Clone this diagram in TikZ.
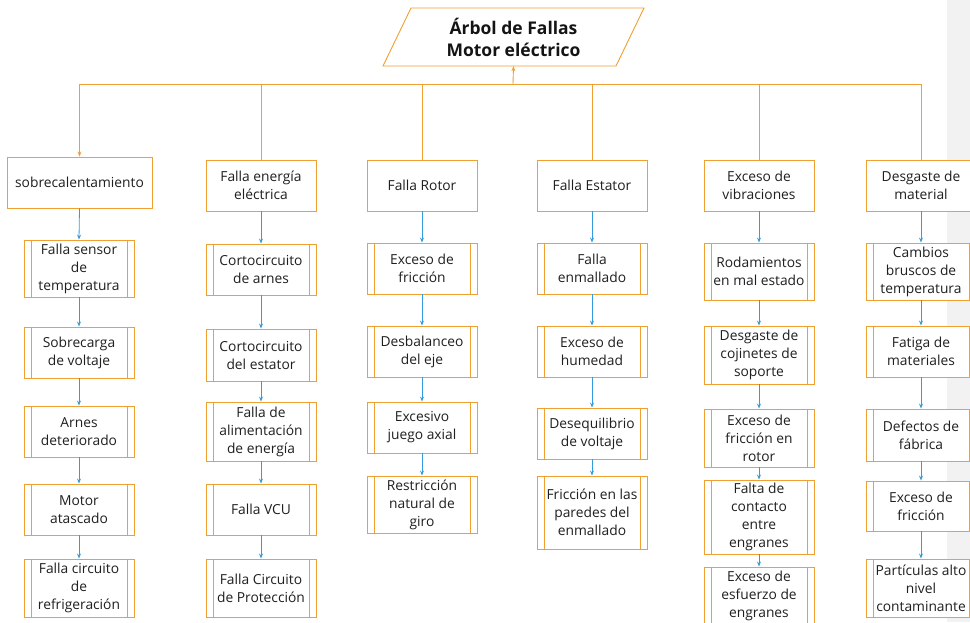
\documentclass[tikz,border=0pt]{standalone}
\usepackage{fontspec}
\setmainfont{Open Sans}
\usetikzlibrary{arrows.meta}
\definecolor{treeorange}{RGB}{240,160,48}
\definecolor{treeblue}{RGB}{52,156,220}
\definecolor{sidegray}{RGB}{242,242,242}
\tikzset{
  box/.style={draw=treeorange, line width=0.9pt, fill=white, inner sep=1pt,
    align=center, font=\fontsize{13.8}{18}\selectfont, text=black!88},
  mainbox/.style={box, minimum width=110pt, minimum height=51pt},
  subbox/.style={box, minimum width=110pt,
    path picture={\draw[treeorange, line width=0.9pt]
      ([xshift=7pt]path picture bounding box.north west) -- ([xshift=7pt]path picture bounding box.south west)
      ([xshift=-7pt]path picture bounding box.north east) -- ([xshift=-7pt]path picture bounding box.south east);}},
  busline/.style={draw=treeorange, line width=0.9pt},
  link/.style={draw=treeblue, line width=0.8pt, -{Stealth[length=5pt,width=4pt]}},
}
\begin{document}
\begin{tikzpicture}[x=1pt,y=-1pt]
\useasboundingbox (0,0) rectangle (970,622);
\fill[sidegray] (947,0) rectangle (970,622);

% title parallelogram
\draw[treeorange, line width=0.9pt, fill=white] (411,8) -- (644,8) -- (616,66) -- (383,66) -- cycle;
\node[minimum width=200pt, minimum height=58pt, inner sep=0pt, align=center,
  font=\bfseries\fontsize{17.5}{22}\selectfont, text=black!92] (title) at (513.5,37)
  {Árbol de Fallas\\Motor eléctrico};

% first level
\node[mainbox, minimum width=145pt] (c1) at (79.5,182.5) {sobrecalentamiento};
\node[mainbox] (c2) at (261,185.5) {Falla energía\\eléctrica};
\node[mainbox] (c3) at (422,185.5) {Falla Rotor};
\node[mainbox] (c4) at (592,185.5) {Falla Estator};
\node[mainbox] (c5) at (759,185.5) {Exceso de\\vibraciones};
\node[mainbox] (c6) at (921,185.5) {Desgaste de\\material};

% bus to the title
\coordinate (bus) at (513,84);
\draw[busline] (c1.north |- bus) -- (c6.north |- bus);
\draw[busline, -{Stealth[length=5pt,width=4pt]}] (bus) -- (title.south);
\draw[busline, -{Stealth[length=5pt,width=4pt]}] (c1.north |- bus) -- (c1.north);
\foreach \c in {c2,c3,c4,c5,c6}
  \draw[busline] (\c.north |- bus) -- (\c.north);

% column 1
\node[subbox, minimum height=57pt] (s11) at (79,268.5) {Falla sensor\\de\\temperatura};
\node[subbox, minimum height=51pt] (s12) at (79,352.5) {Sobrecarga\\de voltaje};
\node[subbox, minimum height=51pt] (s13) at (79,431.5) {Arnes\\deteriorado};
\node[subbox, minimum height=51pt] (s14) at (79,509.5) {Motor\\atascado};
\node[subbox, minimum height=58pt] (s15) at (79,588) {Falla circuito\\de\\refrigeración};

% column 2
\node[subbox, minimum height=51pt] (s21) at (261,269.5) {Cortocircuito\\de arnes};
\node[subbox, minimum height=52pt] (s22) at (261,355) {Cortocircuito\\del estator};
\node[subbox, minimum height=59pt] (s23) at (261,431.5) {Falla de\\alimentación\\de energía};
\node[subbox, minimum height=51pt] (s24) at (261,509.5) {Falla VCU};
\node[subbox, minimum height=58pt] (s25) at (261,588) {Falla Circuito\\de Protección};

% column 3
\node[subbox, minimum height=51pt] (s31) at (422,268.5) {Exceso de\\fricción};
\node[subbox, minimum height=51pt] (s32) at (422,351.5) {Desbalanceo\\del eje};
\node[subbox, minimum height=51pt] (s33) at (422,427.5) {Excesivo\\juego axial};
\node[subbox, minimum height=57pt] (s34) at (422,504.5) {Restricción\\natural de\\giro};

% column 4
\node[subbox, minimum height=51pt] (s41) at (592,268.5) {Falla\\enmallado};
\node[subbox, minimum height=51pt] (s42) at (592,351.5) {Exceso de\\humedad};
\node[subbox, minimum height=51pt] (s43) at (592,433.5) {Desequilibrio\\de voltaje};
\node[subbox, minimum height=73pt] (s44) at (592,512.5) {Fricción en las\\paredes del\\enmallado};

% column 5
\node[subbox, minimum height=57pt] (s51) at (759,271.5) {Rodamientos\\en mal estado};
\node[subbox, minimum height=58pt] (s52) at (759,355) {Desgaste de\\cojinetes de\\soporte};
\node[subbox, minimum height=58pt] (s53) at (759,438) {Exceso de\\fricción en\\rotor};
\node[subbox, minimum height=74pt] (s54) at (759,517) {Falta de\\contacto\\entre\\engranes};
\node[subbox, minimum height=58pt] (s55) at (759,596) {Exceso de\\esfuerzo de\\engranes};

% column 6
\node[subbox, minimum height=57pt] (s61) at (921,271.5) {Cambios\\bruscos de\\temperatura};
\node[subbox, minimum height=51pt] (s62) at (921,351.5) {Fatiga de\\materiales};
\node[subbox, minimum height=52pt] (s63) at (921,435) {Defectos de\\fábrica};
\node[subbox, minimum height=50pt] (s64) at (921,506) {Exceso de\\fricción};
\node[subbox, minimum height=58pt] (s65) at (921,588) {Partículas alto\\nivel\\contaminante};

% blue links down each column
\foreach \a/\b in {c1/s11,s11/s12,s12/s13,s13/s14,s14/s15,
                   c2/s21,s21/s22,s22/s23,s23/s24,s24/s25,
                   c3/s31,s31/s32,s32/s33,s33/s34,
                   c4/s41,s41/s42,s42/s43,s43/s44,
                   c5/s51,s51/s52,s52/s53,s53/s54,s54/s55,
                   c6/s61,s61/s62,s62/s63,s63/s64,s64/s65}
  \draw[link] (\a.south) -- (\b.north);
\end{tikzpicture}
\end{document}
